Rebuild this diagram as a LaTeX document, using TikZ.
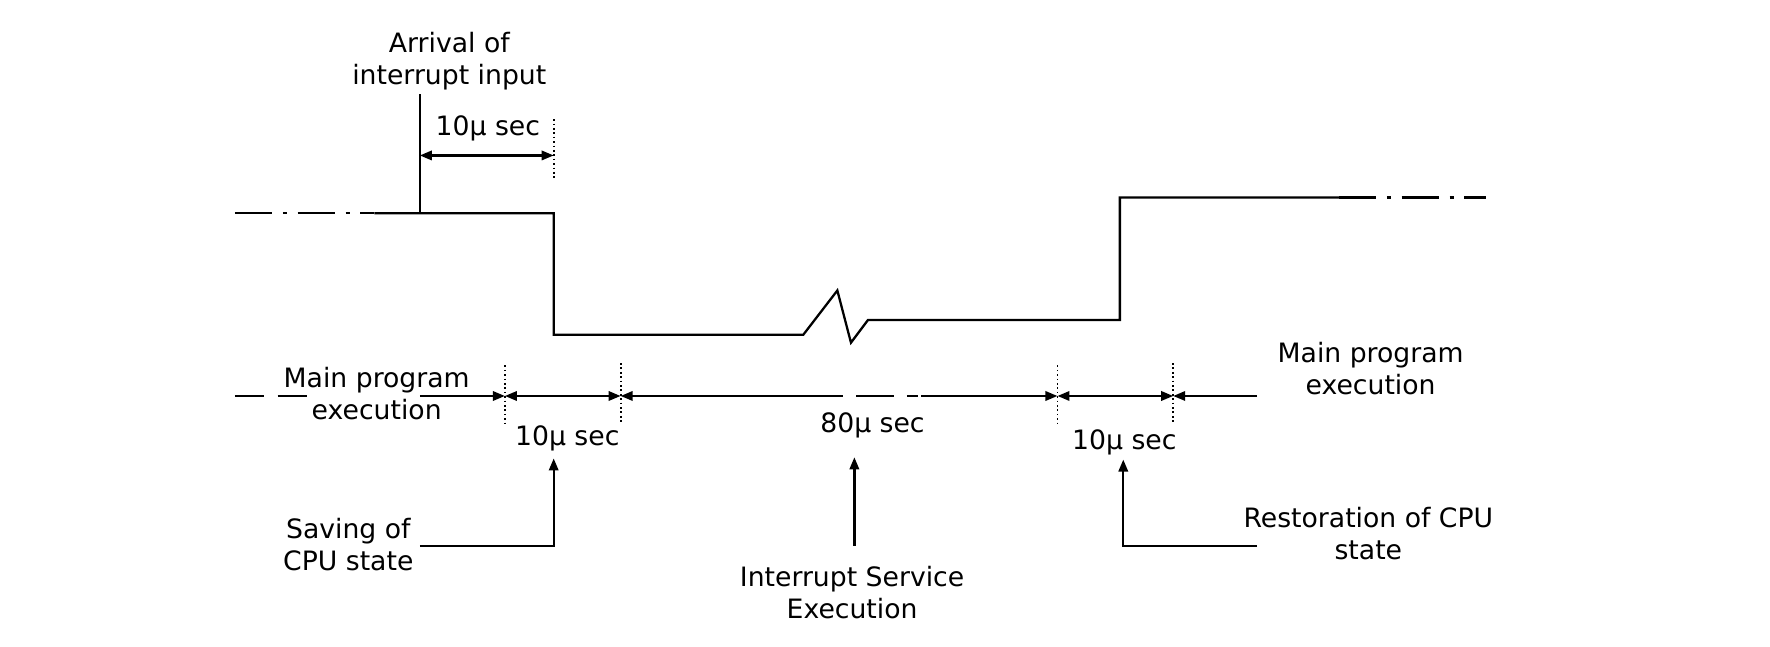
\documentclass[tikz,border=0pt]{standalone}
\usepackage{fontspec}
\setmainfont{DejaVu Sans}
\usetikzlibrary{arrows.meta}
\begin{document}
\begin{tikzpicture}[x=0.851pt,y=-0.851pt,
  ln/.style={line width=1.7pt},
  dt/.style={line width=1.3pt,dotted},
  arr/.style={ln,-{Triangle[length=9pt,width=7pt]}},
  barr/.style={ln,{Triangle[length=9pt,width=7pt]}-{Triangle[length=9pt,width=7pt]}},
  txt/.style={font=\fontsize{20}{24}\selectfont,align=center,inner sep=0pt},
  dd/.style={ln,dash pattern=on 28pt off 8pt on 3pt off 8pt}]
\useasboundingbox (0,0) rectangle (1560,570);
% top waveform
\draw[dd] (207,188) -- (330,188);
\draw[ln] (330,188) -- (488,188) -- (488,295) -- (708,295) -- (738,256) -- (750,302) -- (765,282) -- (987,282) -- (987,174) -- (1180,174);
\draw[dd] (1180,174) -- (1310,174);
% arrival
\node[txt] (arr) at (396,54) {Arrival of\\interrupt input};
\coordinate (a0) at (370,83);
\coordinate (a1) at (370,188);
\draw[ln] (a0) -- (a1);
\coordinate (d0) at (488,105); \coordinate (d0b) at (488,158);
\draw[dt] (d0) -- (d0b);
\draw[barr] (370,137) -- (488,137);
\node[txt] (t0) at (430,113) {10µ sec};
% timeline
\draw[ln,dash pattern=on 22pt off 10pt] (207,349) -- (280,349);
\node[txt] (mpl) at (332,347) {Main program\\execution};
\coordinate (p1) at (445,349); \coordinate (p2) at (547,349);
\coordinate (p3) at (932,349); \coordinate (p4) at (1034,349);
\draw[arr] (370,349) -- (p1);
\draw[dt] (445,322) -- (445,374);
\draw[dt] (547,320) -- (547,372);
\draw[dt] (932,322) -- (932,376);
\draw[dt] (1034,320) -- (1034,372);
\draw[barr] (p1) -- (p2);
\draw[arr] (710,349) -- (p2);
\draw[ln,dash pattern=on 28pt off 10pt on 28pt off 10pt on 8pt off 10pt] (710,349) -- (812,349);
\draw[arr] (812,349) -- (p3);
\draw[barr] (p3) -- (p4);
\draw[arr] (1108,349) -- (p4);
\node[txt] (mpr) at (1208,325) {Main program\\execution};
\node[txt] (t1) at (500,386) {10µ sec};
\node[txt] (t2) at (769,375) {80µ sec};
\node[txt] (t3) at (991,390) {10µ sec};
% saving
\node[txt] (sv) at (307,480) {Saving of\\CPU state};
\draw[arr] (370,481) -- (488,481) -- (488,404);
\node[txt] (ise) at (751,522) {Interrupt Service\\Execution};
\draw[arr] (753,481) -- (753,403);
\node[txt] (rs) at (1206,470) {Restoration of CPU\\state};
\draw[arr] (1108,481) -- (990,481) -- (990,405);
\end{tikzpicture}
\end{document}
